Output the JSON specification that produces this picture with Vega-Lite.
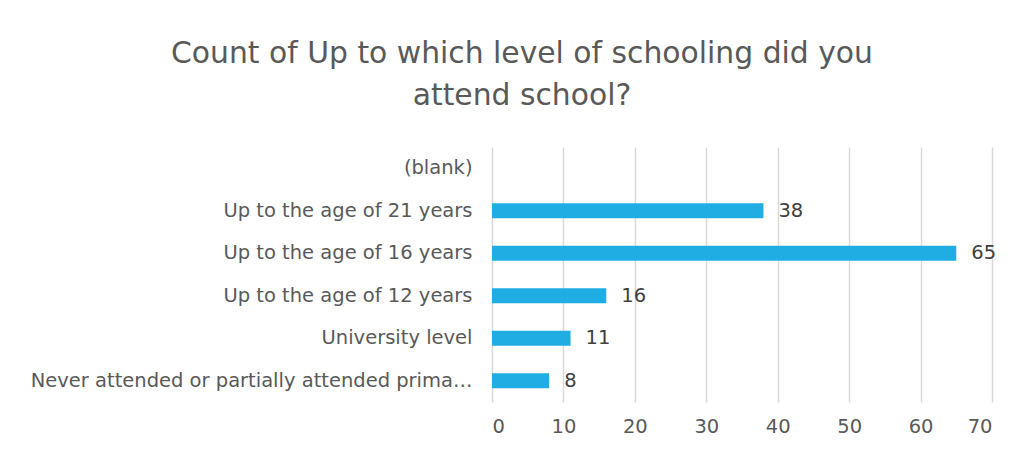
{
  "$schema": "https://vega.github.io/schema/vega-lite/v6.json",
  "autosize": {"type": "none"},
  "width": 500,
  "height": 255,
  "padding": {"left": 492, "top": 147, "right": 32, "bottom": 49},
  "background": "white",
  "config": {"view": {"stroke": null}, "font": "DejaVu Sans"},
  "title": {
    "text": ["Count of Up to which level of schooling did you", "attend school?"],
    "anchor": "middle",
    "frame": "group",
    "dx": -220,
    "offset": 36,
    "fontSize": 29.8,
    "lineHeight": 42,
    "font": "DejaVu Sans",
    "fontWeight": "normal",
    "color": "#595959"
  },
  "data": {
    "values": [
      {"level": "Up to the age of 21 years", "count": 38},
      {"level": "Up to the age of 16 years", "count": 65},
      {"level": "Up to the age of 12 years", "count": 16},
      {"level": "University level", "count": 11},
      {"level": "Never attended or partially attended primary school", "count": 8}
    ]
  },
  "encoding": {
    "y": {
      "field": "level",
      "type": "nominal",
      "title": null,
      "scale": {
        "domain": ["(blank)", "Up to the age of 21 years", "Up to the age of 16 years", "Up to the age of 12 years", "University level", "Never attended or partially attended primary school"],
        "paddingInner": 0.647,
        "paddingOuter": 0.3235
      },
      "axis": {
        "domain": false,
        "ticks": false,
        "labelPadding": 20,
        "labelFontSize": 19.5,
        "labelColor": "#595959",
        "labelLimit": 448,
        "labelFont": "DejaVu Sans"
      }
    },
    "x": {
      "field": "count",
      "type": "quantitative",
      "title": null,
      "scale": {"domain": [0, 70], "nice": false},
      "axis": {
        "values": [0, 10, 20, 30, 40, 50, 60, 70],
        "domain": false,
        "ticks": false,
        "grid": true,
        "gridColor": "#d9d9d9",
        "gridWidth": 1.5,
        "labelPadding": 15,
        "labelFontSize": 19.5,
        "labelColor": "#595959",
        "labelFont": "DejaVu Sans"
      }
    }
  },
  "layer": [
    {"mark": {"type": "bar", "color": "#1FADE4"}},
    {
      "mark": {"type": "text", "align": "left", "dx": 15, "fontSize": 19.5, "color": "#404040", "font": "DejaVu Sans"},
      "encoding": {"text": {"field": "count", "type": "quantitative"}}
    }
  ]
}
